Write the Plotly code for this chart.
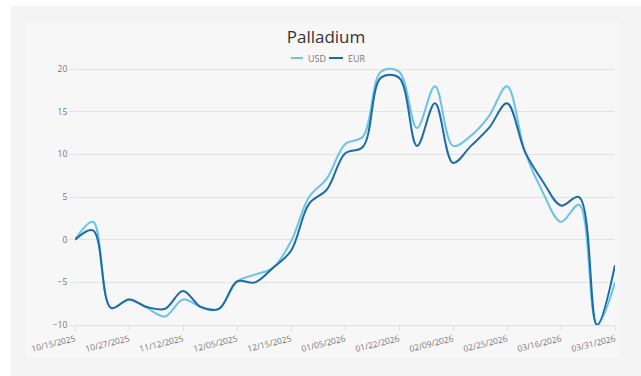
import plotly.graph_objects as go

dates = ["10/15/2025", "10/20/2025", "10/23/2025", "10/27/2025", "11/03/2025", "11/07/2025",
         "11/12/2025", "11/19/2025", "11/26/2025", "12/05/2025", "12/09/2025", "12/11/2025",
         "12/15/2025", "12/22/2025", "12/30/2025", "01/05/2026", "01/12/2026", "01/16/2026",
         "01/22/2026", "01/28/2026", "02/03/2026", "02/09/2026", "02/13/2026", "02/19/2026",
         "02/25/2026", "03/03/2026", "03/10/2026", "03/16/2026", "03/20/2026", "03/25/2026",
         "03/31/2026"]

usd = [0, 2.1, -8.0, -7.0, -8.0, -9.0, -7.0, -7.9, -8.1, -4.9, -4.1, -3.3, -0.2, 5.0, 7.2,
       11.2, 12.1, 19.7, 19.7, 13.1, 18.0, 11.0, 12.2, 14.5, 18.0, 10.3, 5.5, 2.1, 4.1, -10.0, -5.0]
eur = [0, 1.1, -8.0, -7.0, -7.9, -8.1, -6.0, -7.9, -8.1, -4.9, -5.0, -3.3, -1.3, 4.2, 5.9,
       10.1, 10.9, 19.0, 19.0, 11.0, 16.0, 9.0, 11.0, 13.1, 16.0, 10.3, 6.8, 4.0, 5.0, -10.0, -3.0]

series_names = ["USD", "EUR"]
series_colors = ["#6cc3e8", "#1c6ca6"]
tick_labels = dates[::3]
y_ticks = [-10, -5, 0, 5, 10, 15, 20]

FONT = "'Open Sans', Lato, sans-serif"
W, H = 641, 376
L, R, T, B = 75, 26, 64, 51
PW, PH = W - L - R, H - T - B


def px_x(x):
    return (x - L) / PW


def px_y(y):
    return (H - B - y) / PH


fig = go.Figure()
for name, vals, col in zip(series_names, [usd, eur], series_colors):
    fig.add_trace(go.Scatter(x=dates, y=vals, name=name, mode="lines",
                             line=dict(color=col, width=2, shape="spline", smoothing=1)))

shapes = [
    dict(type="rect", xref="paper", yref="paper", layer="below",
         x0=px_x(11), x1=px_x(W + 5), y0=px_y(H + 5), y1=px_y(6),
         fillcolor="#f4f4f4", line=dict(width=0)),
    dict(type="rect", xref="paper", yref="paper", layer="below",
         x0=px_x(25), x1=px_x(620), y0=px_y(357), y1=px_y(22),
         fillcolor="#f7f7f7", line=dict(width=0)),
]
annotations = []
# compact legend
leg = [(291, 303, 306), (329, 343, 346)]
for (lx0, lx1, tx), name, col in zip(leg, series_names, series_colors):
    shapes.append(dict(type="line", xref="paper", yref="paper", x0=px_x(lx0), x1=px_x(lx1),
                       y0=px_y(58), y1=px_y(58), line=dict(color=col, width=2)))
    annotations.append(dict(text=name, xref="paper", yref="paper", x=px_x(tx), y=px_y(58),
                            xanchor="left", yanchor="middle", showarrow=False,
                            font=dict(size=9, color="#777", family=FONT)))

fig.update_layout(
    width=W, height=H,
    paper_bgcolor="white",
    plot_bgcolor="rgba(0,0,0,0)",
    margin=dict(l=L, r=R, t=T, b=B, autoexpand=False),
    font=dict(family=FONT, color="#666"),
    title=dict(text="Palladium", x=px_x(326), xref="paper", xanchor="center",
               y=1 - 37 / H, yref="container", yanchor="middle",
               font=dict(size=17, color="#333", family=FONT)),
    showlegend=False,
    shapes=shapes,
    annotations=annotations,
)

fig.update_xaxes(
    type="category",
    tickmode="array", tickvals=tick_labels, ticktext=tick_labels,
    tickangle=-14,
    tickfont=dict(size=8.5, color="#777"),
    showgrid=False,
    showline=True, linecolor="#e0e0e0", linewidth=1,
    ticks="outside", ticklen=5, tickcolor="#e0e0e0",
    range=[0, len(dates) - 1],
    zeroline=False,
)
fig.update_yaxes(
    range=[-10, 20.6],
    tickvals=y_ticks,
    tickfont=dict(size=8.5, color="#777"),
    showgrid=True, gridcolor="#e3e3e3", gridwidth=1,
    ticks="outside", ticklen=5, tickcolor="#e3e3e3",
    showline=False, zeroline=False,
)

fig.write_html("out.html")
